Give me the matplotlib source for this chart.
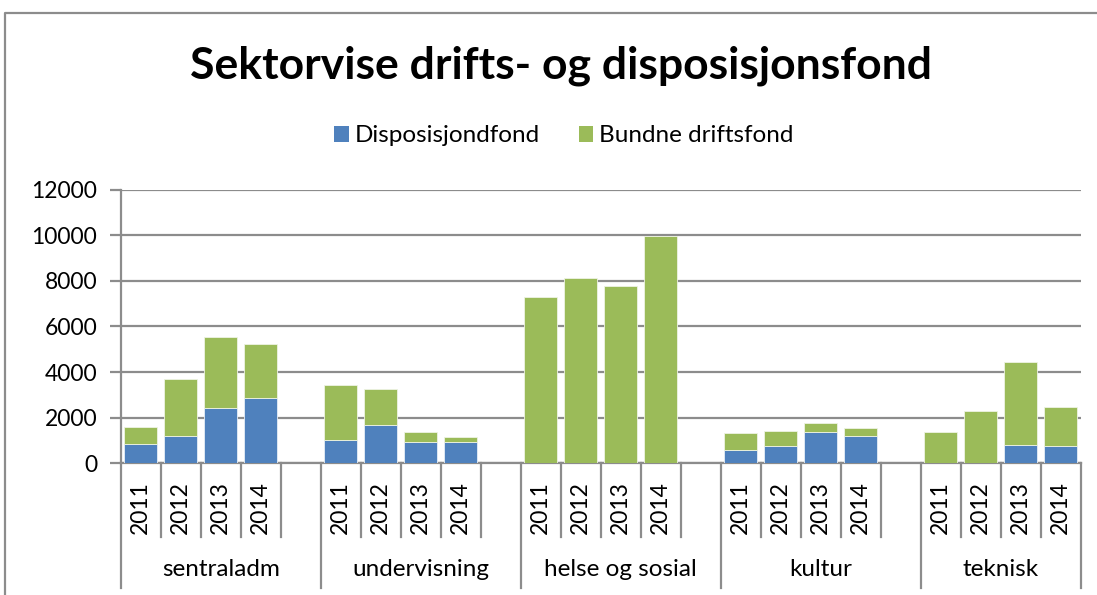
import matplotlib
matplotlib.use("Agg")
import matplotlib.pyplot as plt
from matplotlib.patches import Patch
from matplotlib.lines import Line2D
import matplotlib.transforms as mtrans

plt.rcParams["font.family"] = ["Lato", "DejaVu Sans"]

sectors = ["sentraladm", "undervisning", "helse og sosial", "kultur", "teknisk"]
years = ["2011", "2012", "2013", "2014"]

# disposisjonsfond (blue) and bundne driftsfond (green), per sector, per year
dispo = [
    [830, 1210, 2410, 2870],
    [1030, 1690, 920, 950],
    [0, 0, 0, 0],
    [580, 760, 1370, 1180],
    [0, 0, 800, 770],
]
bundne = [
    [770, 2490, 3120, 2370],
    [2390, 1550, 440, 200],
    [7270, 8100, 7750, 9970],
    [730, 660, 410, 370],
    [1360, 2290, 3650, 1680],
]

blue = "#4F81BD"
green = "#9BBB59"
grid_c = "#8C8C8C"

W, H = 1097, 595
fig = plt.figure(figsize=(W / 100, H / 100), dpi=100)

x0, x1 = 120.7, 1080.5
y0, y1 = 463.3, 189.5
ax = fig.add_axes([x0 / W, 1 - y0 / H, (x1 - x0) / W, (y0 - y1) / H])

# slot positions: 5 per group (4 years + blank), last group has no blank
xs = []
start = 0
group_bounds = [-0.5]
for g in range(len(sectors)):
    xs.append([start + i for i in range(len(years))])
    start += len(years) + (1 if g < len(sectors) - 1 else 0)
    group_bounds.append(start - 0.5)
nslots = start

for g in range(len(sectors)):
    ax.bar(xs[g], dispo[g], width=0.84, color=blue, edgecolor="#E6EEF7", linewidth=0.6, zorder=3)
    ax.bar(xs[g], bundne[g], bottom=dispo[g], width=0.84, color=green, edgecolor="#EEF3E4", linewidth=0.6, zorder=3)

ax.set_xlim(-0.5, nslots - 0.5)
ax.set_ylim(0, 12000)
ax.set_yticks(range(0, 12001, 2000))
ax.yaxis.grid(True, color=grid_c, linewidth=1.6)
ax.set_axisbelow(True)
for s in ["top", "right"]:
    ax.spines[s].set_visible(False)
ax.spines["left"].set_color(grid_c)
ax.spines["left"].set_linewidth(1.6)
ax.spines["bottom"].set_color(grid_c)
ax.spines["bottom"].set_linewidth(1.6)
ax.tick_params(axis="y", length=8, width=1.6, color=grid_c, labelsize=16.5, pad=9)
ax.set_xticks([])

# multi-level category axis
trans = mtrans.blended_transform_factory(ax.transData, ax.transAxes)
def ay(py):
    return (y0 - py) / (y0 - y1)

for b in range(nslots + 1):
    xb = b - 0.5
    bottom_px = 588 if xb in group_bounds else 537
    ax.add_line(Line2D([xb, xb], [0, ay(bottom_px)], transform=trans, color=grid_c,
                       linewidth=1.6, clip_on=False))

for g in range(len(sectors)):
    for i, yr in enumerate(years):
        ax.text(xs[g][i], ay(508), yr, transform=trans, rotation=90, ha="center", va="center",
                fontsize=16.5)
    cx = (group_bounds[g] + group_bounds[g + 1]) / 2
    ax.text(cx, ay(570), sectors[g], transform=trans, ha="center", va="center", fontsize=17.5)

fig.text(0.511, 1 - 78 / H, "Sektorvise drifts- og disposisjonsfond", ha="center", va="baseline",
         fontsize=32, fontweight="bold")

handles = [Patch(facecolor=blue, edgecolor="none", label="Disposisjondfond"),
           Patch(facecolor=green, edgecolor="none", label="Bundne driftsfond")]
fig.legend(handles=handles, loc="center", bbox_to_anchor=(0.514, 1 - 136 / H), ncol=2, frameon=False,
           fontsize=17.5, handlelength=0.6, handleheight=0.6, handletextpad=0.25, columnspacing=1.6)

# chart frame
fig.add_artist(Line2D([5 / W, 5 / W, 1.0], [0, 1 - 12.5 / H, 1 - 12.5 / H], transform=fig.transFigure,
                      color="#8C8C8C", linewidth=1.6))

fig.savefig("out.png", dpi=100)
